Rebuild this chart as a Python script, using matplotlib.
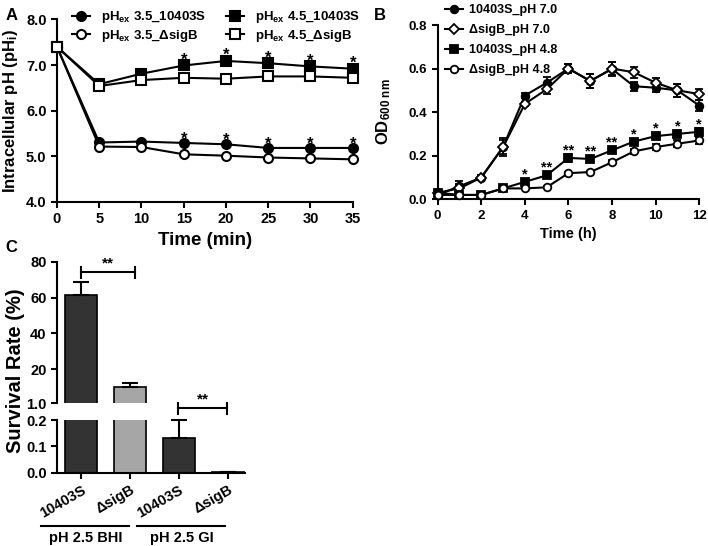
import matplotlib
matplotlib.use('Agg')
import matplotlib.pyplot as plt
import numpy as np

plt.rcParams['font.family'] = ['Liberation Sans', 'DejaVu Sans']
plt.rcParams['font.weight'] = 'bold'
plt.rcParams['axes.labelweight'] = 'bold'
plt.rcParams['mathtext.fontset'] = 'custom'
plt.rcParams['mathtext.rm'] = 'Liberation Sans:bold'
plt.rcParams['mathtext.bf'] = 'Liberation Sans:bold'
plt.rcParams['mathtext.it'] = 'Liberation Sans:bold'
plt.rcParams['mathtext.default'] = 'bf'
plt.rcParams['axes.linewidth'] = 1.5

# ---- panel A data: intracellular pH
t_min = [0, 5, 10, 15, 20, 25, 30, 35]
ph35_wt = [7.4, 5.30, 5.32, 5.29, 5.26, 5.18, 5.18, 5.18]
ph35_sig = [7.4, 5.21, 5.20, 5.04, 5.01, 4.97, 4.95, 4.93]
ph45_wt = [7.4, 6.58, 6.81, 6.99, 7.09, 7.04, 6.97, 6.92]
ph45_sig = [7.4, 6.54, 6.67, 6.72, 6.70, 6.75, 6.75, 6.72]
star_idx_a = [3, 4, 5, 6, 7]

# ---- panel B data: growth OD600
t_h = [0, 1, 2, 3, 4, 5, 6, 7, 8, 9, 10, 11, 12]
od70_wt = [0.02, 0.06, 0.10, 0.24, 0.476, 0.535, 0.60, 0.543, 0.598, 0.519, 0.512, 0.50, 0.43]
od70_wt_err = [0.01, 0.025, 0.01, 0.03, 0.01, 0.025, 0.02, 0.03, 0.03, 0.02, 0.02, 0.03, 0.025]
od70_sig = [0.03, 0.05, 0.10, 0.24, 0.438, 0.505, 0.60, 0.543, 0.60, 0.583, 0.535, 0.50, 0.483]
od70_sig_err = [0.01, 0.02, 0.01, 0.04, 0.01, 0.02, 0.02, 0.03, 0.03, 0.025, 0.02, 0.03, 0.025]
od48_wt = [0.03, 0.02, 0.02, 0.05, 0.08, 0.11, 0.19, 0.185, 0.225, 0.265, 0.29, 0.30, 0.31]
od48_wt_err = [0.01, 0.01, 0.005, 0.005, 0.01, 0.01, 0.02, 0.01, 0.01, 0.01, 0.015, 0.015, 0.015]
od48_sig = [0.02, 0.02, 0.02, 0.05, 0.05, 0.055, 0.12, 0.125, 0.17, 0.22, 0.24, 0.255, 0.27]
od48_sig_err = [0.005, 0.005, 0.005, 0.005, 0.005, 0.005, 0.005, 0.005, 0.01, 0.01, 0.015, 0.015, 0.015]
stars_b = ['', '', '', '', '*', '**', '**', '**', '**', '*', '*', '*', '*']

# ---- panel C data: survival rate
strains = ['10403S', 'ΔsigB', '10403S', 'ΔsigB']
surv = [61.5, 10.3, 0.13, 0.003]
surv_err = [7.0, 2.0, 0.07, 0.001]
groups = ['pH 2.5 BHI', 'pH 2.5 GI']

fig = plt.figure(figsize=(7.08, 5.46), dpi=100)

# ================= A
axA = fig.add_axes([0.0805, 0.6306, 0.4177, 0.3337])
kw = dict(color='black', lw=1.5, ms=6.5, mew=1.5, clip_on=False, zorder=3)
l1, = axA.plot(t_min, ph35_wt, 'o-', mfc='black', **kw)
l2, = axA.plot(t_min, ph35_sig, 'o-', mfc='white', **kw)
l3, = axA.plot(t_min, ph45_wt, 's-', mfc='black', **kw)
l4, = axA.plot(t_min, ph45_sig, 's-', mfc='white', **kw)
for i in star_idx_a:
    axA.text(t_min[i], ph45_wt[i] - 0.05, '*', ha='center', va='bottom', fontsize=12)
    axA.text(t_min[i], ph35_wt[i] - 0.08, '*', ha='center', va='bottom', fontsize=12)
axA.set_xlim(0, 35)
axA.set_ylim(4, 8)
axA.set_xticks(t_min)
axA.set_yticks([4, 5, 6, 7, 8])
axA.set_yticklabels(['4.0', '5.0', '6.0', '7.0', '8.0'])
axA.spines['top'].set_visible(False)
axA.spines['right'].set_visible(False)
axA.tick_params(labelsize=10.5, width=1.5, length=4)
axA.set_xlabel('Time (min)', fontsize=13.5, labelpad=4)
axA.set_ylabel('Intracellular pH (pH$_{i}$)', fontsize=12)
axA.yaxis.set_label_coords(-0.125, 0.5)
axA.legend(handles=[l1, l2, l3, l4],
           labels=['pH$_{ex}$ 3.5_10403S', 'pH$_{ex}$ 3.5_ΔsigB',
                   'pH$_{ex}$ 4.5_10403S', 'pH$_{ex}$ 4.5_ΔsigB'],
           ncol=2, loc='upper left', bbox_to_anchor=(0.05, 1.055),
           frameon=False, fontsize=9.5, handlelength=1.4, handletextpad=0.8,
           columnspacing=1.5, labelspacing=0.2, borderpad=0, borderaxespad=0)
fig.text(0.008, 0.985, 'A', fontsize=12, va='top')

# ================= B
axB = fig.add_axes([0.6182, 0.635, 0.3695, 0.3192])
kb = dict(color='black', lw=1.5, ms=5.5, mew=1.3, capsize=3, elinewidth=1.3, capthick=1.3,
          clip_on=False, zorder=3)
b1 = axB.errorbar(t_h, od70_wt, yerr=od70_wt_err, fmt='o-', mfc='black', **kb)
b2 = axB.errorbar(t_h, od70_sig, yerr=od70_sig_err, fmt='D-', mfc='white', **kb)
b3 = axB.errorbar(t_h, od48_wt, yerr=od48_wt_err, fmt='s-', mfc='black', **kb)
b4 = axB.errorbar(t_h, od48_sig, yerr=od48_sig_err, fmt='o-', mfc='white', **kb)
for i, s in enumerate(stars_b):
    if s:
        axB.text(t_h[i], od48_wt[i] + 0.002, s, ha='center', va='bottom', fontsize=10.5)
axB.set_xlim(0, 12)
axB.set_ylim(0, 0.8)
axB.set_xticks([0, 2, 4, 6, 8, 10, 12])
axB.set_yticks([0, 0.2, 0.4, 0.6, 0.8])
axB.set_yticklabels(['0.0', '0.2', '0.4', '0.6', '0.8'])
axB.spines['top'].set_visible(False)
axB.spines['right'].set_visible(False)
axB.tick_params(labelsize=9.5, width=1.5, length=4)
axB.set_xlabel('Time (h)', fontsize=10.5, labelpad=4)
axB.set_ylabel('OD$_{600\\ nm}$', fontsize=12)
axB.yaxis.set_label_coords(-0.17, 0.5)
handles = [h[0] for h in (b1, b2, b3, b4)]
axB.legend(handles=handles, labels=['10403S_pH 7.0', 'ΔsigB_pH 7.0', '10403S_pH 4.8', 'ΔsigB_pH 4.8'],
           loc='upper left', bbox_to_anchor=(0.028, 1.12), frameon=False, fontsize=9,
           handlelength=1.4, handletextpad=0.5, labelspacing=0.65, borderpad=0, borderaxespad=0)
fig.text(0.528, 0.985, 'B', fontsize=12, va='top')

# ================= C (broken y axis)
x = np.arange(len(strains))
colors = ['#333333', '#a6a6a6', '#333333', '#a6a6a6']
axU = fig.add_axes([0.0805, 0.2614, 0.2655, 0.2593])
axL = fig.add_axes([0.0805, 0.1342, 0.2655, 0.0965])
for ax in (axU, axL):
    ax.bar(x, surv, width=0.65, color=colors, edgecolor='black', linewidth=1.2)
    ax.set_xlim(-0.49, 3.35)
    ax.spines['top'].set_visible(False)
    ax.spines['right'].set_visible(False)
    ax.tick_params(labelsize=10.5, width=1.5, length=4)
axU.errorbar(x[:2], surv[:2], yerr=[[0, 0], surv_err[:2]], fmt='none', ecolor='black',
             capsize=6, elinewidth=1.5, capthick=1.5)
axL.errorbar(x[2:], surv[2:], yerr=[[0, 0], surv_err[2:]], fmt='none', ecolor='black',
             capsize=6, elinewidth=1.5, capthick=1.5, clip_on=False)
axU.set_ylim(1, 80)
axU.set_yticks([1, 20, 40, 60, 80])
axU.set_yticklabels(['1.0', '20', '40', '60', '80'])
axU.spines['bottom'].set_visible(False)
axU.set_xticks([])
axL.set_ylim(0, 0.2)
axL.set_yticks([0, 0.1, 0.2])
axL.set_yticklabels(['0.0', '0.1', '0.2'])
axL.set_xticks(x)
axL.set_xticklabels(strains, rotation=30, ha='right', rotation_mode='anchor', fontsize=10.5)

# significance brackets
def bracket(ax, x0, x1, y, d):
    lk = dict(color='black', lw=1.5, clip_on=False)
    ax.plot([x0, x1], [y, y], **lk)
    ax.plot([x0, x0], [y - d, y + d], **lk)
    ax.plot([x1, x1], [y - d, y + d], **lk)
    ax.text((x0 + x1) / 2, y + d * 0.3, '**', ha='center', va='bottom', fontsize=11)

bracket(axU, 0.01, 1.1, 74, 3.3)
bracket(axL, 1.99, 2.99, 0.2445, 0.022)

# group labels under the lower axis
gk = dict(color='black', lw=1.5, clip_on=False, transform=axL.get_xaxis_transform())
axL.plot([-0.82, 0.98], [-1.02, -1.02], **gk)
axL.plot([1.14, 2.95], [-1.02, -1.02], **gk)
axL.text(0.1, -1.1, groups[0], ha='center', va='top', fontsize=10.5,
         transform=axL.get_xaxis_transform())
axL.text(2.06, -1.1, groups[1], ha='center', va='top', fontsize=10.5,
         transform=axL.get_xaxis_transform())

fig.text(0.022, 0.322, 'Survival Rate (%)', rotation=90, fontsize=14.5, ha='center', va='center')
fig.text(0.008, 0.56, 'C', fontsize=12, va='top')

fig.savefig('out.png', dpi=100)
